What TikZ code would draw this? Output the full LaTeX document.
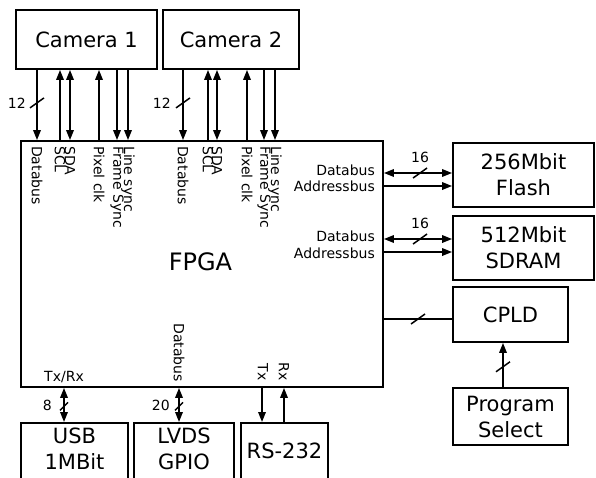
\documentclass[tikz,border=0pt]{standalone}
\usepackage{fontspec}
\setmainfont{DejaVu Sans}
\usetikzlibrary{arrows.meta}
\newcommand\busslash[1]{\draw[slashsty] ([shift={(-7,5)}]#1) -- ([shift={(7,-5)}]#1);}
\newcommand\smallslash[1]{\draw[slashsty] ([shift={(-4,4)}]#1) -- ([shift={(4,-4)}]#1);}
\begin{document}
\begin{tikzpicture}[x=1pt,y=-1pt,
  every node/.style={font=\fontsize{14}{16}\selectfont, inner sep=0pt},
  box/.style={draw, line width=1.8pt, inner sep=0pt, font=\fontsize{21}{26}\selectfont, align=center},
  bigtext/.style={inner sep=0pt, font=\fontsize{21}{26}\selectfont, align=center},
  conn/.style={line width=1.7pt},
  slashsty/.style={line width=1.5pt, -},
  vlab/.style={rotate=-90, inner sep=0pt},
  >={Triangle[length=10pt,width=7.5pt]}]
\useasboundingbox (0,0) rectangle (596,477);
\clip (0,0) rectangle (596,477);

% boxes
\node[box, minimum width=141pt, minimum height=59pt] (cam1) at (86.5,39.5) {Camera 1};
\node[box, minimum width=136pt, minimum height=59pt] (cam2) at (231,39.5) {Camera 2};
\node[box, minimum width=362pt, minimum height=246pt] (fpga) at (202,264) {};
\node[bigtext, font=\fontsize{24}{28}\selectfont] (fpgat) at (200.5,262) {FPGA};
\node[box, minimum width=141pt, minimum height=64pt] (flash) at (523.5,175) {256Mbit\\Flash};
\node[box, minimum width=141pt, minimum height=64pt] (sdram) at (523.5,248) {512Mbit\\SDRAM};
\node[box, minimum width=115pt, minimum height=55pt] (cpld) at (510.5,314.5) {CPLD};
\node[box, minimum width=115pt, minimum height=57pt] (prog) at (510.5,416.5) {Program\\Select};
\node[box, minimum width=107pt, minimum height=80pt, anchor=north] (usb) at (74.5,422) {};
\node[bigtext] (usbt) at (74.5,449) {USB\\1MBit};
\node[box, minimum width=100pt, minimum height=80pt, anchor=north] (lvds) at (184,422) {};
\node[bigtext] (lvdst) at (184,449) {LVDS\\GPIO};
\node[box, minimum width=87pt, minimum height=80pt, anchor=north] (rs) at (284.5,422) {};
\node[bigtext] (rst) at (284.5,450.5) {RS-232};

% camera 1 connectors
\draw[conn,->] (37,0 |- cam1.south) -- coordinate[pos=0.47] (s1) (37,0 |- fpga.north);
\draw[conn,<-] (60,0 |- cam1.south) -- (60,0 |- fpga.north);
\draw[conn,<->] (70,0 |- cam1.south) -- (70,0 |- fpga.north);
\draw[conn,<-] (99,0 |- cam1.south) -- (99,0 |- fpga.north);
\draw[conn,->] (117,0 |- cam1.south) -- (117,0 |- fpga.north);
\draw[conn,->] (128,0 |- cam1.south) -- (128,0 |- fpga.north);
\busslash{s1}
\node[anchor=east] (n12a) at (26,103) {12};

% camera 2 connectors
\draw[conn,->] (183,0 |- cam2.south) -- coordinate[pos=0.47] (s2) (183,0 |- fpga.north);
\draw[conn,<-] (208,0 |- cam2.south) -- (208,0 |- fpga.north);
\draw[conn,<->] (217,0 |- cam2.south) -- (217,0 |- fpga.north);
\draw[conn,<-] (247,0 |- cam2.south) -- (247,0 |- fpga.north);
\draw[conn,->] (264,0 |- cam2.south) -- (264,0 |- fpga.north);
\draw[conn,->] (275,0 |- cam2.south) -- (275,0 |- fpga.north);
\busslash{s2}
\node[anchor=east] (n12b) at (171,103) {12};

% top labels inside FPGA
\node[vlab, anchor=west] (l1) at (37,146) {Databus};
\node[vlab, anchor=west] (l2) at (60,146) {SCL};
\node[vlab, anchor=west] (l3) at (70,146) {SDA};
\node[vlab, anchor=west] (l4) at (99,146) {Pixel clk};
\node[vlab, anchor=west] (l5) at (117,146) {Frame Sync};
\node[vlab, anchor=west] (l6) at (128,146) {Line sync};
\node[vlab, anchor=west] (m1) at (183,146) {Databus};
\node[vlab, anchor=west] (m2) at (208,146) {SCL};
\node[vlab, anchor=west] (m3) at (217,146) {SDA};
\node[vlab, anchor=west] (m4) at (247,146) {Pixel clk};
\node[vlab, anchor=west] (m5) at (264,146) {Frame Sync};
\node[vlab, anchor=west] (m6) at (275,146) {Line sync};

% right side
\node[anchor=base east] (fdl) at (375,175) {Databus};
\node[anchor=base east] (fal) at (375,191.5) {Addressbus};
\node[anchor=base east] (sdl) at (375,241.5) {Databus};
\node[anchor=base east] (sal) at (375,258) {Addressbus};
\draw[conn,<->] (fpga.east |- 0,173) -- coordinate[pos=0.53] (s5) (flash.west |- 0,173);
\draw[conn,->] (fpga.east |- 0,186) -- (flash.west |- 0,186);
\draw[conn,<->] (fpga.east |- 0,239) -- coordinate[pos=0.53] (s6) (sdram.west |- 0,239);
\draw[conn,->] (fpga.east |- 0,252) -- (sdram.west |- 0,252);
\busslash{s5}
\busslash{s6}
\node[anchor=base] (n16a) at ([yshift=10.5pt]s5) {16};
\node[anchor=base] (n16b) at ([yshift=10.5pt]s6) {16};
\draw[conn] (fpga.east |- 0,319) -- coordinate[pos=0.5] (s7) (cpld.west |- 0,319);
\busslash{s7}
\draw[conn,->] (503,0 |- prog.north) -- coordinate[pos=0.46] (s8) (503,0 |- cpld.south);
\busslash{s8}

% bottom
\node[anchor=base] (txrx) at (64,381) {Tx/Rx};
\node[vlab, anchor=east] (ldb) at (179,382) {Databus};
\node[vlab, anchor=east] (ltx) at (263,381) {Tx};
\node[vlab, anchor=east] (lrx) at (284,381) {Rx};
\draw[conn,<->] (64,0 |- fpga.south) -- coordinate[pos=0.54] (s9) (64,0 |- usb.north);
\draw[conn,<->] (179,0 |- fpga.south) -- coordinate[pos=0.54] (s10) (179,0 |- lvds.north);
\smallslash{s9}
\smallslash{s10}
\node[anchor=east] (n8) at (52,405.5) {8};
\node[anchor=east] (n20) at (170,405.5) {20};
\draw[conn,->] (262,0 |- fpga.south) -- (262,0 |- rs.north);
\draw[conn,<-] (284,0 |- fpga.south) -- (284,0 |- rs.north);
\end{tikzpicture}
\end{document}
